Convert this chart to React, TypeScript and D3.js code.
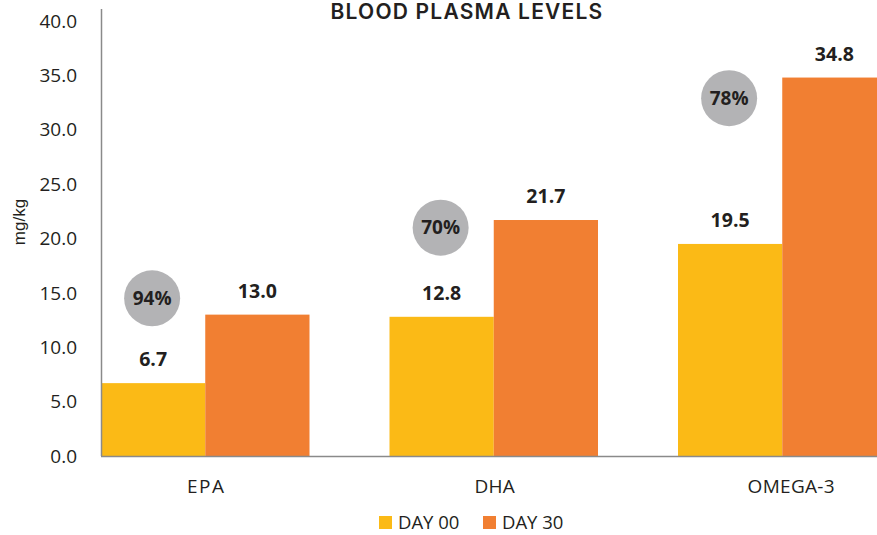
import React from 'react';
import * as d3 from 'd3';

const categories = ['EPA', 'DHA', 'OMEGA-3'];
const seriesNames = ['DAY 00', 'DAY 30'];
const day00 = [6.7, 12.8, 19.5];
const day30 = [13.0, 21.7, 34.8];
const increase = ['94%', '70%', '78%'];
// where each % badge sits, in mg/kg units
const badgeLevel = [14.5, 21.0, 32.9];
const yTicks = [0, 5, 10, 15, 20, 25, 30, 35, 40];

const W = 877;
const H = 535;
const colors = ['#FBBA16', '#F17F32'];
const font = "'Open Sans', 'Noto Sans', sans-serif";

export default function App() {
  const left = 101;
  const baseY = 456;

  const x = d3.scaleBand<string>()
    .domain(categories)
    .range([left, 886.5])
    .paddingInner(0.2773)
    .paddingOuter(0)
    .align(0);
  const xs = d3.scaleBand<string>()
    .domain(seriesNames)
    .range([0, x.bandwidth()]);
  const y = d3.scaleLinear().domain([0, 40]).range([baseY, 21]);

  const series = [day00, day30];

  return (
    <svg width={W} height={H} style={{ position: 'absolute', left: 0, top: 0, background: '#fff' }}>
      <text x={467} y={19} textAnchor="middle" fontFamily="Inter, sans-serif" fontWeight={600}
        fontSize={21} letterSpacing={1.2} fill="#231f20">BLOOD PLASMA LEVELS</text>

      {yTicks.map(t => (
        <text key={t} x={77} y={y(t)} dy="0.35em" textAnchor="end" fontFamily={font}
          fontSize={19} fill="#231f20">{t.toFixed(1)}</text>
      ))}
      <text transform={`translate(25,222) rotate(-90)`} textAnchor="middle" fontFamily="'Liberation Sans', Arial, sans-serif"
        fontSize={17} fill="#231f20">mg/kg</text>

      {categories.map((c, i) => (
        <g key={c}>
          {series.map((s, j) => {
            const bx = x(c)! + xs(seriesNames[j])!;
            return (
              <g key={j}>
                <rect x={bx} y={y(s[i])} width={xs.bandwidth()} height={baseY - y(s[i])} fill={colors[j]} />
                <text x={bx + xs.bandwidth() / 2} y={y(s[i]) - 17} textAnchor="middle" fontFamily={font}
                  fontWeight={700} fontSize={19.5} fill="#231f20">{s[i].toFixed(1)}</text>
              </g>
            );
          })}
          <circle cx={x(c)! + xs.bandwidth() / 2 - 1} cy={y(badgeLevel[i])} r={28} fill="#B3B3B5" />
          <text x={x(c)! + xs.bandwidth() / 2 - 1} y={y(badgeLevel[i])} dy="0.35em" textAnchor="middle"
            fontFamily={font} fontWeight={700} fontSize={19} fill="#231f20">{increase[i]}</text>
          <text x={x(c)! + x.bandwidth() / 2 + (i === 2 ? 9 : 1)} y={486} dy="0.35em" textAnchor="middle" fontFamily={font}
            fontSize={19} fill="#231f20" letterSpacing={c === 'EPA' ? 1.5 : 0.3}>{c}</text>
        </g>
      ))}

      <line x1={left} x2={W} y1={baseY + 0.5} y2={baseY + 0.5} stroke="#8a8a8a" strokeWidth={1.5} />
      <line x1={left + 0.5} x2={left + 0.5} y1={9} y2={baseY} stroke="#8a8a8a" strokeWidth={1.5} />

      {seriesNames.map((n, j) => (
        <g key={n} transform={`translate(${379 + j * 104},516)`}>
          <rect width={13} height={13} fill={colors[j]} />
          <text x={19} y={6.5} dy="0.35em" fontFamily={font} fontSize={18.5} fill="#231f20">{n}</text>
        </g>
      ))}
    </svg>
  );
}
